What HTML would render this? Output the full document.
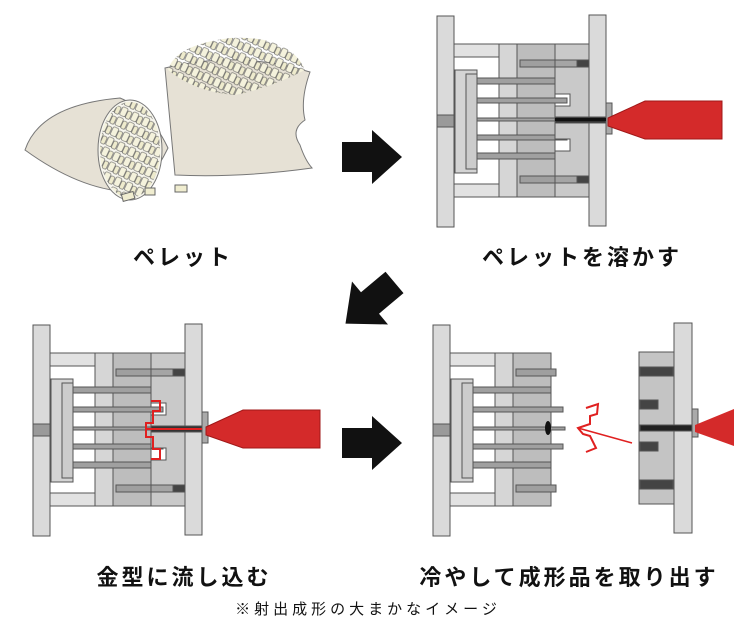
<!DOCTYPE html>
<html><head><meta charset="utf-8"><style>
body{margin:0;background:#fff;width:751px;height:628px;overflow:hidden;font-family:"Liberation Sans","Noto Sans CJK JP",sans-serif}
.l{position:absolute;font-weight:bold;font-size:22px;letter-spacing:3px;color:#111;white-space:nowrap;transform:translateX(-50%)}
</style></head><body>
<svg width="751" height="628" style="position:absolute;left:0;top:0">
<defs>
<pattern id="pel" width="12" height="11" patternUnits="userSpaceOnUse" patternTransform="rotate(25)">
<rect x="0.5" y="0.5" width="6" height="9" rx="1.5" fill="#f4f2dc" stroke="#555" stroke-width="0.6"/>
<rect x="7" y="2" width="4.5" height="8" rx="1.5" fill="#eeebcd" stroke="#555" stroke-width="0.6"/>
</pattern>
<g id="half" stroke="#555" stroke-width="1">
<rect x="0" y="0" width="17" height="211" fill="#dadada"/>
<rect x="0" y="99" width="17" height="12" fill="#9a9a9a"/>
<rect x="17" y="28" width="45" height="13" fill="#e2e2e2"/>
<rect x="17" y="168" width="45" height="13" fill="#e2e2e2"/>
<rect x="62" y="28" width="18" height="153" fill="#d6d6d6"/>
<rect x="80" y="28" width="38" height="153" fill="#bdbdbd"/>
<rect x="18" y="54" width="22" height="103" fill="#d4d4d4"/>
<rect x="29" y="58" width="11" height="95" fill="#cccccc"/>
<rect x="83" y="44" width="40" height="7" fill="#9f9f9f"/>
<rect x="83" y="160" width="40" height="7" fill="#9f9f9f"/>
<rect x="40" y="62" width="78" height="6" fill="#a0a0a0"/>
<rect x="40" y="82" width="90" height="5" fill="#a0a0a0"/>
<rect x="40" y="102" width="92" height="3" fill="#a0a0a0"/>
<rect x="40" y="119" width="90" height="5" fill="#a0a0a0"/>
<rect x="40" y="137" width="78" height="6" fill="#a0a0a0"/>
</g>
<g id="fixed" stroke="#555" stroke-width="1">
<path d="M118 28H152V181H118V135H133V123H118V90H133V78H118Z" fill="#c9c9c9"/>
<rect x="118" y="44" width="34" height="7" fill="#a5a5a5"/>
<rect x="140" y="44" width="12" height="7" fill="#444"/>
<rect x="118" y="160" width="34" height="7" fill="#a5a5a5"/>
<rect x="140" y="160" width="12" height="7" fill="#444"/>
<rect x="152" y="-1" width="17" height="211" fill="#dadada"/>
<rect x="169" y="87" width="6" height="31" fill="#aaa"/>
<rect x="118" y="101" width="51" height="6" fill="#333"/>
</g>
<path id="noz" d="M0 0L37 -17H114V21H37L0 8Z" fill="#d42a2a" stroke="#a01818"/>
</defs>
<!-- bags -->
<path d="M165 68Q240 50 310 72Q300 100 305 120Q290 130 300 145Q305 160 312 168Q240 178 175 175Z" fill="#e6e1d5" stroke="#777"/>
<path d="M168 70Q175 45 230 38Q290 35 305 70Q270 88 235 95Q195 92 168 70Z" fill="url(#pel)"/>
<path d="M25 150Q40 105 120 98Q150 110 168 148Q150 185 130 192Q80 190 25 150Z" fill="#e6e1d5" stroke="#777"/>
<ellipse cx="130" cy="150" rx="32" ry="50" fill="#f7f6ee" stroke="#777"/>
<ellipse cx="130" cy="150" rx="30" ry="48" fill="url(#pel)"/>
<rect x="122" y="193" width="12" height="7" fill="#f0edd0" stroke="#666" transform="rotate(-15 128 196)"/>
<rect x="175" y="185" width="12" height="7" fill="#f0edd0" stroke="#666"/>
<rect x="145" y="188" width="10" height="7" fill="#f0edd0" stroke="#666"/>
<!-- molds -->
<g transform="translate(437,16)"><use href="#half"/><use href="#fixed"/><rect x="118" y="102" width="51" height="3" fill="#111"/></g>
<use href="#noz" transform="translate(608,118)"/>
<g transform="translate(33,325)"><use href="#half"/><use href="#fixed"/>
<path d="M118 76H127V86H120V98H113V112H120V124H127V134H118" fill="none" stroke="#e02020" stroke-width="2"/>
<path d="M113 104H169" stroke="#e02020" stroke-width="2"/></g>
<use href="#noz" transform="translate(206,427)"/>
<g transform="translate(433,325)"><use href="#half"/></g>
<path d="M586 408L598 404L597 414L590 416L590 424L578 428L583 434L590 436L596 448L586 452" fill="none" stroke="#e02020" stroke-width="2"/>
<path d="M578 428L632 443" stroke="#e02020" stroke-width="1.5"/>
<ellipse cx="548" cy="428" rx="3" ry="7" fill="#111"/>
<g stroke="#555"><rect x="639" y="352" width="35" height="152" fill="#c4c4c4"/>
<rect x="640" y="367" width="33" height="9" fill="#444"/><rect x="640" y="480" width="33" height="9" fill="#444"/>
<rect x="640" y="400" width="18" height="9" fill="#444"/><rect x="640" y="442" width="18" height="9" fill="#444"/>
<rect x="674" y="323" width="18" height="210" fill="#dadada"/><rect x="692" y="409" width="6" height="28" fill="#aaa"/>
<rect x="640" y="425" width="52" height="6" fill="#222"/></g>
<path d="M695 425L734 409V446L695 432Z" fill="#d42a2a"/>
<!-- arrows -->
<path d="M342 142H372V130L402 157L372 184V172H342Z" fill="#111"/>
<path d="M342 428H372V416L402 443L372 470V458H342Z" fill="#111"/>
<path d="M-32 -14H0V-28L32 0L0 28V14H-32Z" fill="#111" transform="translate(370,303) rotate(140)"/>
</svg>
<div class="l" style="left:183px;top:240px">ペレット</div>
<div class="l" style="left:582px;top:240px">ペレットを溶かす</div>
<div class="l" style="left:184px;top:560px">金型に流し込む</div>
<div class="l" style="left:569px;top:560px">冷やして成形品を取り出す</div>
<div class="l" style="left:368px;top:598px;font-size:15px;font-weight:normal;letter-spacing:4px">※射出成形の大まかなイメージ</div>
</body></html>
